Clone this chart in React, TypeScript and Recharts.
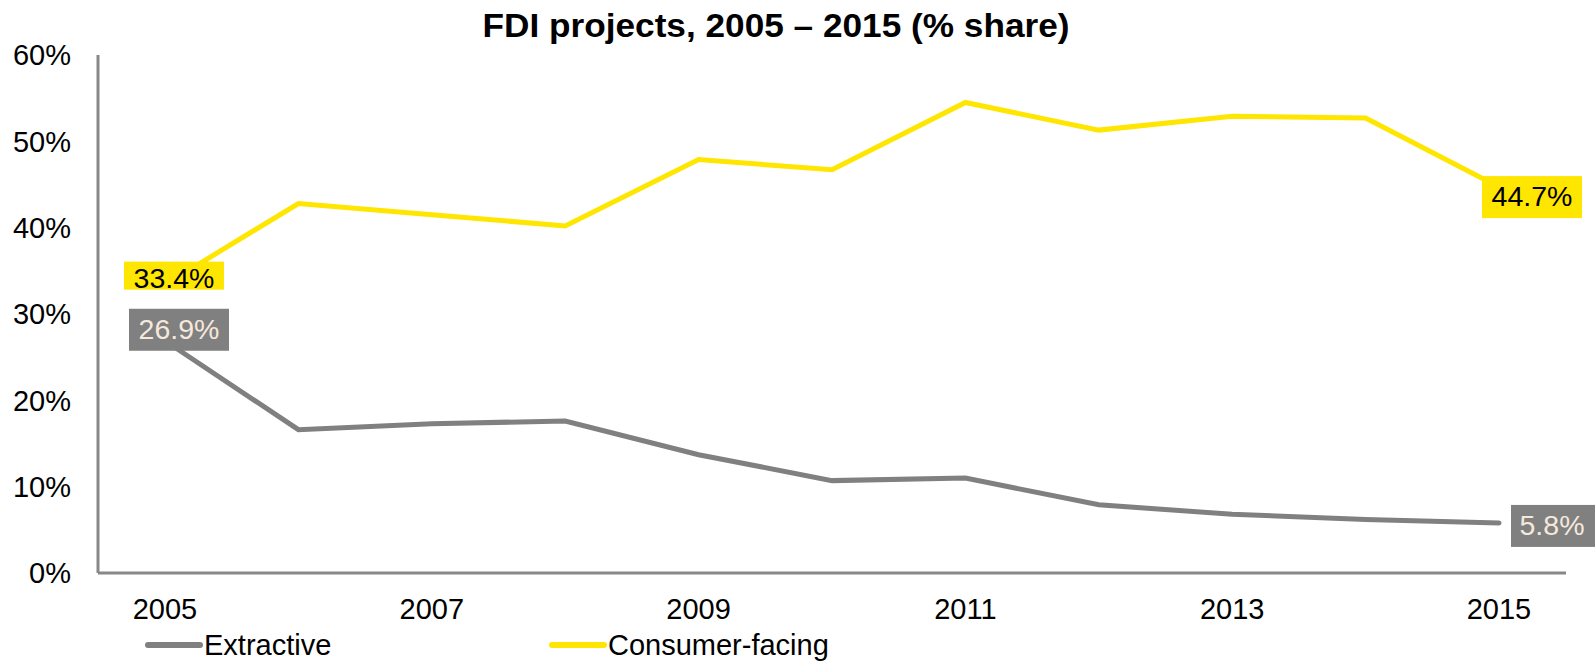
import { LineChart, Line, XAxis, YAxis, Legend, LabelList } from 'recharts'

const years = ['2005', '2006', '2007', '2008', '2009', '2010', '2011', '2012', '2013', '2014', '2015']
const extractive = [26.9, 16.6, 17.3, 17.6, 13.7, 10.7, 11.0, 7.9, 6.8, 6.2, 5.8]
const consumerFacing = [33.4, 42.8, 41.5, 40.2, 47.9, 46.7, 54.5, 51.3, 52.9, 52.7, 44.7]
const yTicks = [0, 10, 20, 30, 40, 50, 60]

const GREY = '#808080'
const YELLOW = '#FFE600'
const FONT = '"Liberation Sans", Arial, sans-serif'

const data = years.map((year, i) => ({
  year,
  extractive: extractive[i],
  consumer: consumerFacing[i],
}))

// where the end labels sit relative to their point
const labelBoxes: Record<string, { dx: number; dy: number; w: number; h: number; tx: number; ty: number }> = {
  'consumer-0': { dx: -41, dy: -23, w: 100, h: 28, tx: 50, ty: 16 },
  'consumer-10': { dx: -17, dy: -11, w: 100, h: 42, tx: 50, ty: 20 },
  'extractive-0': { dx: -36, dy: -32, w: 100, h: 42, tx: 50, ty: 20 },
  'extractive-10': { dx: 12, dy: -18, w: 100, h: 42, tx: 41, ty: 20 },
}

function endLabel(key: string, fill: string, color: string) {
  return (props: any) => {
    const { x, y, value, index } = props
    const box = labelBoxes[`${key}-${index}`]
    if (!box) return null
    return (
      <g>
        <rect x={x + box.dx} y={y + box.dy} width={box.w} height={box.h} fill={fill} />
        <text
          x={x + box.dx + box.tx}
          y={y + box.dy + box.ty}
          textAnchor="middle"
          dominantBaseline="central"
          fontFamily={FONT}
          fontSize={28.5}
          fill={color}
        >
          {`${Number(value).toFixed(1)}%`}
        </text>
      </g>
    )
  }
}

function LegendContent() {
  const items = [
    { name: 'Extractive', color: GREY, x: 145 },
    { name: 'Consumer-facing', color: YELLOW, x: 549 },
  ]
  return (
    <div style={{ position: 'relative', height: 40, width: 1595 }}>
      {items.map((it) => (
        <div
          key={it.name}
          style={{ position: 'absolute', left: it.x, top: 0, height: 40, display: 'flex', alignItems: 'center' }}
        >
          <svg width={58} height={10}>
            <line x1={3} y1={5} x2={55} y2={5} stroke={it.color} strokeWidth={6} strokeLinecap="round" />
          </svg>
          <span style={{ fontFamily: FONT, fontSize: 29, color: '#000', marginLeft: 1 }}>{it.name}</span>
        </div>
      ))}
    </div>
  )
}

export default function App() {
  return (
    <div style={{ position: 'relative', width: 1595, height: 665, background: '#fff' }}>
      <style>{`body{margin:0}`}</style>
      <svg width={1595} height={60} style={{ position: 'absolute', left: 0, top: 0 }}>
        <text
          x={776}
          y={25}
          textAnchor="middle"
          dominantBaseline="central"
          fontFamily='"Liberation Sans Narrow", "Liberation Sans", Arial, sans-serif'
          fontWeight="bold"
          fontSize={33}
          textLength={587}
          lengthAdjust="spacingAndGlyphs"
          fill="#000"
        >
          FDI projects, 2005 – 2015 (% share)
        </text>
      </svg>
      <LineChart width={1595} height={665} data={data} margin={{ top: 55, right: 29, left: 0, bottom: 0 }}>
        <XAxis
          dataKey="year"
          interval={1}
          padding={{ left: 67, right: 67 }}
          height={52}
          tickLine={false}
          tickSize={0}
          tickMargin={25}
          axisLine={{ stroke: '#888', strokeWidth: 3 }}
          tick={{ fontSize: 29, fill: '#000', fontFamily: FONT }}
        />
        <YAxis
          width={98}
          domain={[0, 60]}
          ticks={yTicks}
          tickFormatter={(v) => `${v}%`}
          tickLine={false}
          tickSize={0}
          tickMargin={27}
          axisLine={{ stroke: '#888', strokeWidth: 3 }}
          tick={{ fontSize: 29, fill: '#000', fontFamily: FONT }}
        />
        <Legend verticalAlign="bottom" height={40} wrapperStyle={{ left: 0, width: 1595 }} content={<LegendContent />} />
        <Line
          dataKey="extractive"
          name="Extractive"
          stroke={GREY}
          strokeWidth={5}
          strokeLinecap="round"
          dot={false}
          isAnimationActive={false}
        >
          <LabelList dataKey="extractive" content={endLabel('extractive', GREY, '#F5E8DC')} />
        </Line>
        <Line
          dataKey="consumer"
          name="Consumer-facing"
          stroke={YELLOW}
          strokeWidth={5}
          strokeLinecap="round"
          dot={false}
          isAnimationActive={false}
        >
          <LabelList dataKey="consumer" content={endLabel('consumer', YELLOW, '#000')} />
        </Line>
      </LineChart>
    </div>
  )
}
